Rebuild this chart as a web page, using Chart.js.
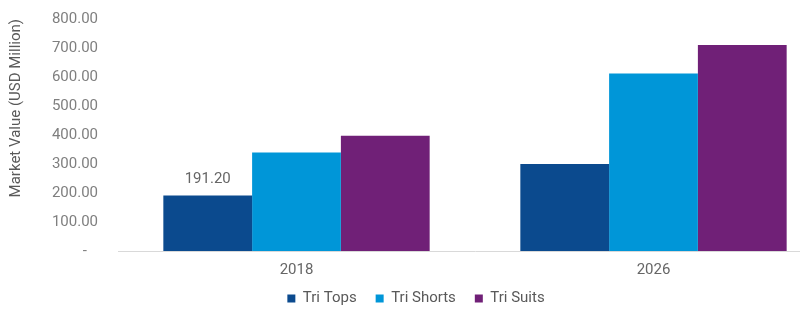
<!DOCTYPE html>
<html>
<head>
<meta charset="utf-8">
<script src="https://cdn.jsdelivr.net/npm/chart.js@4/dist/chart.umd.min.js"></script>
<style>
  html, body { margin: 0; padding: 0; background: #ffffff; overflow: hidden; }
  #wrap { width: 836px; height: 316px; position: relative; }
</style>
</head>
<body>
<div id="wrap"><canvas id="c"></canvas></div>
<script>
const categories = ['2018', '2026'];
const seriesNames = ['Tri Tops', 'Tri Shorts', 'Tri Suits'];
const triTops = [191.2, 300];
const triShorts = [340, 612];
const triSuits = [397, 710];
const yTicks = [0, 100, 200, 300, 400, 500, 600, 700, 800];
const seriesColors = ['#0B4A8E', '#0096D8', '#702077'];
const labelledPoint = { dataset: 0, index: 0 };

const valueLabel = {
  id: 'valueLabel',
  afterLayout(chart) {
    // let the x tick labels extend below the compact x-axis box without clipping
    chart.scales.x.bottom = chart.height;
  },
  afterDatasetsDraw(chart) {
    const ds = chart.data.datasets[labelledPoint.dataset];
    const el = chart.getDatasetMeta(labelledPoint.dataset).data[labelledPoint.index];
    const ctx = chart.ctx;
    ctx.save();
    ctx.font = '15px Roboto';
    ctx.fillStyle = '#666666';
    ctx.textAlign = 'center';
    ctx.textBaseline = 'middle';
    ctx.fillText(ds.data[labelledPoint.index].toFixed(2), el.x, el.y - 16);
    ctx.restore();
  }
};

new Chart(document.getElementById('c'), {
  type: 'bar',
  data: {
    labels: categories,
    datasets: [
      { label: seriesNames[0], data: triTops, backgroundColor: seriesColors[0] },
      { label: seriesNames[1], data: triShorts, backgroundColor: seriesColors[1] },
      { label: seriesNames[2], data: triSuits, backgroundColor: seriesColors[2] }
    ]
  },
  options: {
    responsive: true,
    maintainAspectRatio: false,
    animation: false,
    layout: { padding: { top: 19, right: 4, left: 0, bottom: 0 } },
    datasets: { bar: { categoryPercentage: 0.746, barPercentage: 1.0 } },
    plugins: {
      legend: {
        position: 'bottom',
        labels: {
          boxWidth: 8, boxHeight: 8, padding: 19,
          color: '#595959',
          font: { family: 'Roboto', size: 15 }
        }
      },
      tooltip: { enabled: false }
    },
    scales: {
      x: {
        afterFit(scale) { scale.height = 21; },
        grid: { display: false, drawTicks: false },
        border: { display: true, color: '#d9d9d9', width: 1 },
        ticks: { color: '#666666', padding: 10, font: { family: 'Roboto', size: 15 } }
      },
      y: {
        min: 0, max: 800,
        afterBuildTicks(scale) { scale.ticks = yTicks.map(v => ({ value: v })); },
        afterFit(scale) { scale.width = 118; scale.paddingTop = 0; scale.paddingBottom = 0; },
        grid: { display: false, drawTicks: false },
        border: { display: false },
        ticks: {
          color: '#7f7f7f', padding: 20,
          font: { family: 'Roboto', size: 15 },
          callback: v => v === 0 ? '-   ' : Number(v).toFixed(2)
        },
        title: {
          display: true, text: 'Market Value (USD Million)', align: 'end',
          color: '#595959', padding: { top: 7, bottom: 0 },
          font: { family: 'Roboto', size: 15 }
        }
      }
    }
  },
  plugins: [valueLabel]
});
</script>
</body>
</html>
